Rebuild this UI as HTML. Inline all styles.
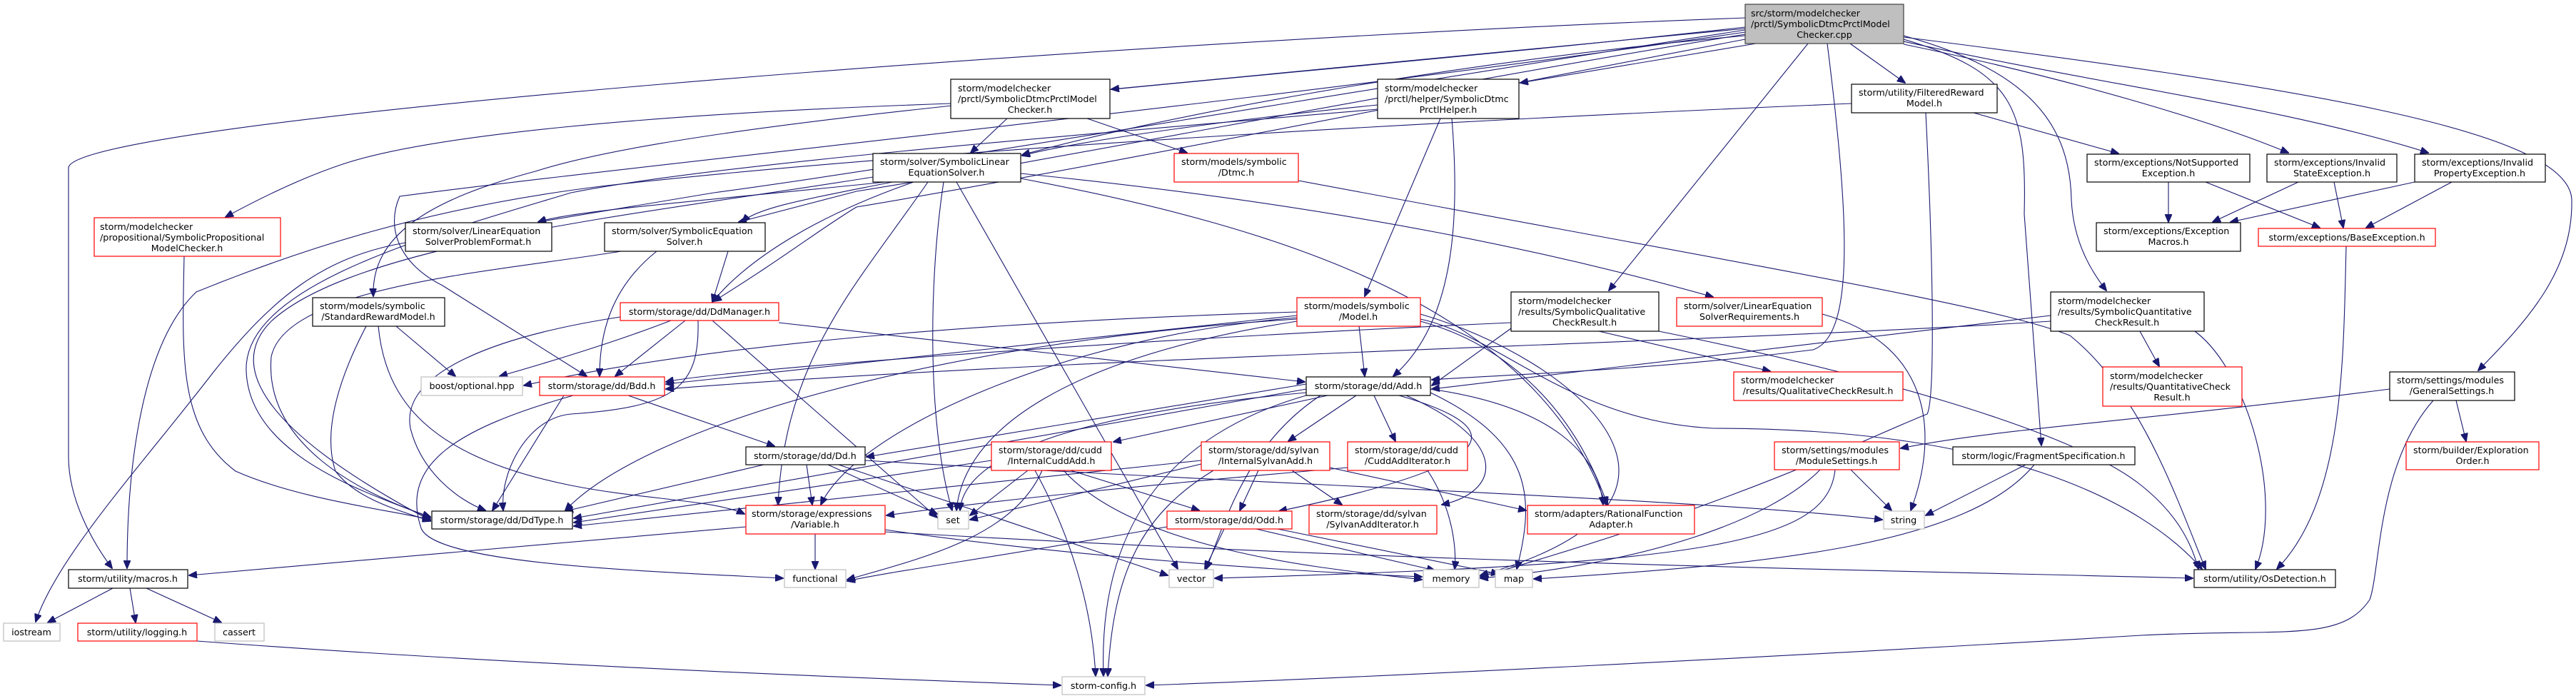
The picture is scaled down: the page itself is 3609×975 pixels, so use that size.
<!DOCTYPE html>
<html><head><meta charset="utf-8"><style>
html,body{margin:0;padding:0;background:#fff;}
svg{display:block;}
text{font-family:"DejaVu Sans","Liberation Sans",sans-serif;font-size:12.7px;fill:#000;}
.e{fill:none;stroke:#191970;stroke-width:1.1;}
.b{fill:#fff;stroke:#000;stroke-width:1.2;}
.r{fill:#fff;stroke:#ff0000;stroke-width:1.2;}
.g{fill:#fff;stroke:#bfbfbf;stroke-width:1.2;}
.c{text-anchor:middle;}
</style></head><body>
<svg width="3609" height="975" viewBox="0 0 3609 975" xmlns="http://www.w3.org/2000/svg">
<defs><marker id="a" markerWidth="12" markerHeight="10" refX="11" refY="5" orient="auto" markerUnits="userSpaceOnUse"><path d="M0,0 L12,5 L0,10 z" fill="#191970" stroke="#191970"/></marker></defs>
<g marker-end="url(#a)">
<path class="e" d="M2445,25 C1500,60 100,170 96,235 L96,640 C96,700 130,760 157,796"/>
<path class="e" d="M2445,38 C1800,110 1000,160 750,240 C600,280 520,330 523,415"/>
<path class="e" d="M2445,45 C1800,140 900,230 560,275 C540,320 560,370 620,400 L822,527"/>
<path class="e" d="M2445,40 L1557,125"/>
<path class="e" d="M2445,50 C2000,90 1600,170 1432,217"/>
<path class="e" d="M2460,61 L2130,116"/>
<path class="e" d="M2592,61 L2669,116"/>
<path class="e" d="M2533,61 L2254,407"/>
<path class="e" d="M2560,61 C2590,300 2600,470 2540,490 C2300,520 2100,525 2006,532"/>
<path class="e" d="M2667,55 C2820,100 2840,150 2836,300 L2860,624"/>
<path class="e" d="M2667,50 C2850,100 2900,180 2902,280 C2905,340 2930,380 2951,407"/>
<path class="e" d="M2667,62 C2900,110 3100,170 3206,214"/>
<path class="e" d="M2667,58 C2950,120 3200,150 3402,214"/>
<path class="e" d="M2667,52 C3200,120 3600,180 3603,280 C3605,380 3540,450 3472,519"/>
<path class="e" d="M2445,48 C2000,120 1500,220 1200,268 L1035,311"/>
<path class="e" d="M2445,55 C2000,140 1500,240 1200,290 C1150,320 1100,360 1000,422"/>
<path class="e" d="M2445,42 C2000,110 1300,230 1000,270 L754,311"/>
<path class="e" d="M1411,166 L1360,214"/>
<path class="e" d="M1523,166 L1663,214"/>
<path class="e" d="M1332,145 C900,160 600,190 480,230 C420,250 360,280 316,304"/>
<path class="e" d="M1930,147 C1700,170 1500,200 1432,218"/>
<path class="e" d="M2018,166 L1912,415"/>
<path class="e" d="M2034,166 C2045,300 2040,450 1952,527"/>
<path class="e" d="M1930,153 C1500,190 1000,230 800,270 C600,330 340,400 345,520 C350,650 550,700 603,726"/>
<path class="e" d="M2594,145 C2000,170 1300,210 850,260 C600,290 420,350 275,409 C200,480 178,650 178,796"/>
<path class="e" d="M2765,158 L2968,215"/>
<path class="e" d="M2698,158 C2710,400 2710,560 2700,580 C2600,620 2450,700 2074,808"/>
<path class="e" d="M1240,255 C1000,280 800,295 754,311"/>
<path class="e" d="M1250,255 C1150,275 1060,290 1040,311"/>
<path class="e" d="M1280,255 C1150,300 1050,360 998,423"/>
<path class="e" d="M1223,248 C900,300 500,340 380,450 C320,510 360,600 603,729"/>
<path class="e" d="M1322,255 C1300,400 1300,600 1334,715"/>
<path class="e" d="M1340,255 L1650,797"/>
<path class="e" d="M1300,255 C1200,400 1100,500 1090,707"/>
<path class="e" d="M1430,243 C1900,290 2200,360 2400,416"/>
<path class="e" d="M1430,250 C1800,320 2150,430 2250,707"/>
<path class="e" d="M1819,253 C2500,380 2800,430 2900,470 C3000,550 3050,700 3090,797"/>
<path class="e" d="M1020,352 L998,423"/>
<path class="e" d="M920,352 C860,400 840,460 840,527"/>
<path class="e" d="M870,352 C700,380 400,400 380,500 C370,620 500,690 603,724"/>
<path class="e" d="M258,359 C255,500 250,600 330,660 C420,700 550,715 603,728"/>
<path class="e" d="M568,340 C450,360 380,420 300,520 C200,650 80,780 50,871"/>
<path class="e" d="M555,457 L638,527"/>
<path class="e" d="M513,457 C480,520 450,600 470,660 C500,700 560,715 603,730"/>
<path class="e" d="M530,457 C540,560 600,640 800,680 C900,700 1000,700 1043,720"/>
<path class="e" d="M940,449 C860,480 760,510 700,527"/>
<path class="e" d="M960,449 L862,527"/>
<path class="e" d="M869,444 C700,470 560,520 575,600 C590,660 640,700 680,715"/>
<path class="e" d="M978,449 C980,540 950,570 800,580 C740,585 700,660 705,715"/>
<path class="e" d="M998,449 L1313,725"/>
<path class="e" d="M1091,452 L1828,535"/>
<path class="e" d="M803,554 C640,600 560,650 590,740 C610,790 900,800 1097,810"/>
<path class="e" d="M790,554 L690,715"/>
<path class="e" d="M880,554 L1085,625"/>
<path class="e" d="M1070,651 L792,716"/>
<path class="e" d="M1130,651 L1138,707"/>
<path class="e" d="M1160,651 L1313,720"/>
<path class="e" d="M1175,651 L1636,806"/>
<path class="e" d="M1212,645 C1800,680 2400,700 2637,728"/>
<path class="e" d="M1045,738 L265,806"/>
<path class="e" d="M1142,748 L1142,797"/>
<path class="e" d="M1240,742 C1500,780 1800,800 1992,808"/>
<path class="e" d="M1240,745 C2000,790 2700,800 3072,810"/>
<path class="e" d="M158,824 L67,872"/>
<path class="e" d="M182,824 L190,872"/>
<path class="e" d="M205,824 L310,872"/>
<path class="e" d="M276,898 C700,930 1200,950 1486,960"/>
<path class="e" d="M1904,457 L1912,527"/>
<path class="e" d="M1817,437 C1400,450 1000,480 734,540"/>
<path class="e" d="M1817,442 L933,538"/>
<path class="e" d="M1817,447 C1300,480 900,600 792,715"/>
<path class="e" d="M1817,450 C1500,500 1350,600 1340,715"/>
<path class="e" d="M1817,445 C1500,470 1200,600 1150,707"/>
<path class="e" d="M1990,450 C2100,480 2200,560 2252,707"/>
<path class="e" d="M1990,440 C2200,500 2450,700 2074,806"/>
<path class="e" d="M1990,447 C2100,470 2200,590 2400,600 C2800,600 3000,700 3085,797"/>
<path class="e" d="M1860,554 L1560,619"/>
<path class="e" d="M1900,554 L1805,618"/>
<path class="e" d="M1925,554 L1955,618"/>
<path class="e" d="M1960,554 C2120,600 2110,650 1792,716"/>
<path class="e" d="M1970,554 C2120,620 2100,690 2020,707"/>
<path class="e" d="M2004,545 C2180,570 2240,640 2246,707"/>
<path class="e" d="M2004,550 C2150,620 2150,700 2125,797"/>
<path class="e" d="M1830,554 C1600,620 1540,780 1546,947"/>
<path class="e" d="M1830,550 C1500,580 1350,640 1345,715"/>
<path class="e" d="M1830,545 L804,726"/>
<path class="e" d="M1830,538 L1214,640"/>
<path class="e" d="M1850,554 C1750,620 1720,720 1690,797"/>
<path class="e" d="M1389,645 L804,732"/>
<path class="e" d="M1440,659 L1359,722"/>
<path class="e" d="M1500,659 L1680,715"/>
<path class="e" d="M1460,659 C1420,750 1300,780 1187,812"/>
<path class="e" d="M1490,659 C1600,780 1900,800 1992,812"/>
<path class="e" d="M1450,659 C1500,750 1530,850 1535,947"/>
<path class="e" d="M1763,659 L1737,715"/>
<path class="e" d="M1810,659 L1880,707"/>
<path class="e" d="M1683,650 L1359,728"/>
<path class="e" d="M1863,655 L2138,715"/>
<path class="e" d="M1683,645 L804,737"/>
<path class="e" d="M1700,659 C1600,720 1560,800 1552,947"/>
<path class="e" d="M2000,659 C2040,720 2040,780 2038,797"/>
<path class="e" d="M1888,655 C1600,680 1400,700 1242,722"/>
<path class="e" d="M1715,741 L1688,797"/>
<path class="e" d="M1760,741 L2010,799"/>
<path class="e" d="M1790,741 L2100,804"/>
<path class="e" d="M1635,738 C1400,780 1250,800 1187,814"/>
<path class="e" d="M2117,452 C1500,480 1000,520 933,535"/>
<path class="e" d="M2240,464 L2480,520"/>
<path class="e" d="M2117,460 L2006,540"/>
<path class="e" d="M2324,464 C2600,520 2900,600 3000,680 C3050,720 3070,760 3080,797"/>
<path class="e" d="M2553,440 C2700,480 2720,600 2677,715"/>
<path class="e" d="M2873,442 L2006,545"/>
<path class="e" d="M2873,450 C2400,480 1500,500 933,545"/>
<path class="e" d="M2998,464 L3025,513"/>
<path class="e" d="M3075,464 C3150,520 3200,700 3160,797"/>
<path class="e" d="M3038,255 L3038,311"/>
<path class="e" d="M3090,255 L3250,319"/>
<path class="e" d="M3220,255 L3100,311"/>
<path class="e" d="M3270,255 L3283,319"/>
<path class="e" d="M3383,255 L3125,311"/>
<path class="e" d="M3435,255 L3315,319"/>
<path class="e" d="M3287,345 C3283,500 3285,700 3190,797"/>
<path class="e" d="M3441,561 L3455,618"/>
<path class="e" d="M3348,545 C3000,590 2800,600 2663,628"/>
<path class="e" d="M3409,561 C3330,650 3335,800 3320,840 C3280,900 3200,880 3000,890 C2500,920 1900,950 1606,960"/>
<path class="e" d="M2593,658 L2650,715"/>
<path class="e" d="M2550,658 C2480,730 2300,790 2074,810"/>
<path class="e" d="M2571,658 C2560,760 2400,790 1702,810"/>
<path class="e" d="M2838,651 L2698,722"/>
<path class="e" d="M2850,651 C2760,760 2500,790 2149,811"/>
</g>

<rect x="2445" y="6" width="222" height="55" fill="#bfbfbf" stroke="#404040" stroke-width="1.2"/>
<text x="2453" y="23">src/storm/modelchecker</text><text x="2453" y="38">/prctl/SymbolicDtmcPrctlModel</text><text class="c" x="2556" y="53">Checker.cpp</text>

<rect class="r" x="132" y="305" width="261" height="54"/>
<text x="140" y="322">storm/modelchecker</text><text x="140" y="337">/propositional/SymbolicPropositional</text><text class="c" x="262" y="352">ModelChecker.h</text>

<rect class="b" x="568" y="312" width="205" height="40"/>
<text x="578" y="328">storm/solver/LinearEquation</text><text class="c" x="670" y="343">SolverProblemFormat.h</text>

<rect class="b" x="847" y="312" width="225" height="40"/>
<text x="857" y="328">storm/solver/SymbolicEquation</text><text class="c" x="959" y="343">Solver.h</text>

<rect class="b" x="438" y="417" width="185" height="40"/>
<text x="448" y="433">storm/models/symbolic</text><text class="c" x="530" y="448">/StandardRewardModel.h</text>

<rect class="r" x="869" y="424" width="222" height="25"/><text class="c" x="980" y="441">storm/storage/dd/DdManager.h</text>
<rect class="g" x="590" y="528" width="142" height="26"/><text class="c" x="661" y="545">boost/optional.hpp</text>
<rect class="r" x="756" y="528" width="175" height="26"/><text class="c" x="843" y="545">storm/storage/dd/Bdd.h</text>
<rect class="b" x="1045" y="626" width="167" height="25"/><text class="c" x="1128" y="643">storm/storage/dd/Dd.h</text>
<rect class="b" x="605" y="716" width="197" height="25"/><text class="c" x="703" y="733">storm/storage/dd/DdType.h</text>

<rect class="r" x="1045" y="708" width="195" height="40"/>
<text x="1053" y="724">storm/storage/expressions</text><text class="c" x="1142" y="739">/Variable.h</text>

<rect class="g" x="1099" y="798" width="86" height="25"/><text class="c" x="1142" y="815">functional</text>
<rect class="b" x="96" y="798" width="167" height="26"/><text class="c" x="179" y="815">storm/utility/macros.h</text>
<rect class="g" x="5" y="873" width="79" height="25"/><text class="c" x="44" y="890">iostream</text>
<rect class="r" x="109" y="873" width="167" height="25"/><text class="c" x="192" y="890">storm/utility/logging.h</text>
<rect class="g" x="301" y="873" width="69" height="25"/><text class="c" x="335" y="890">cassert</text>

<rect class="b" x="1332" y="111" width="223" height="55"/>
<text x="1342" y="128">storm/modelchecker</text><text x="1342" y="143">/prctl/SymbolicDtmcPrctlModel</text><text class="c" x="1443" y="158">Checker.h</text>

<rect class="b" x="1930" y="111" width="198" height="55"/>
<text x="1940" y="128">storm/modelchecker</text><text x="1940" y="143">/prctl/helper/SymbolicDtmc</text><text class="c" x="2029" y="158">PrctlHelper.h</text>

<rect class="b" x="1223" y="215" width="207" height="40"/>
<text x="1233" y="231">storm/solver/SymbolicLinear</text><text class="c" x="1326" y="246">EquationSolver.h</text>

<rect class="r" x="1645" y="215" width="174" height="40"/>
<text x="1655" y="231">storm/models/symbolic</text><text class="c" x="1732" y="246">/Dtmc.h</text>

<rect class="r" x="1817" y="417" width="173" height="40"/>
<text x="1827" y="433">storm/models/symbolic</text><text class="c" x="1903" y="448">/Model.h</text>

<rect class="b" x="2117" y="409" width="207" height="55"/>
<text x="2127" y="426">storm/modelchecker</text><text x="2127" y="441">/results/SymbolicQualitative</text><text class="c" x="2220" y="456">CheckResult.h</text>

<rect class="r" x="2349" y="417" width="204" height="40"/>
<text x="2359" y="433">storm/solver/LinearEquation</text><text class="c" x="2451" y="448">SolverRequirements.h</text>

<rect class="b" x="1830" y="528" width="174" height="26"/><text class="c" x="1917" y="545">storm/storage/dd/Add.h</text>

<rect class="r" x="1389" y="619" width="168" height="40"/>
<text x="1399" y="635">storm/storage/dd/cudd</text><text class="c" x="1473" y="650">/InternalCuddAdd.h</text>

<rect class="r" x="1683" y="619" width="180" height="40"/>
<text x="1693" y="635">storm/storage/dd/sylvan</text><text class="c" x="1773" y="650">/InternalSylvanAdd.h</text>

<rect class="r" x="1888" y="619" width="168" height="40"/>
<text x="1898" y="635">storm/storage/dd/cudd</text><text class="c" x="1972" y="650">/CuddAddIterator.h</text>

<rect class="g" x="1314" y="716" width="43" height="25"/><text class="c" x="1335" y="733">set</text>
<rect class="r" x="1635" y="716" width="175" height="25"/><text class="c" x="1722" y="733">storm/storage/dd/Odd.h</text>

<rect class="r" x="1834" y="708" width="179" height="40"/>
<text x="1844" y="724">storm/storage/dd/sylvan</text><text class="c" x="1923" y="739">/SylvanAddIterator.h</text>

<rect class="r" x="2140" y="708" width="234" height="40"/>
<text x="2150" y="724">storm/adapters/RationalFunction</text><text class="c" x="2257" y="739">Adapter.h</text>

<rect class="g" x="1638" y="798" width="62" height="25"/><text class="c" x="1669" y="815">vector</text>
<rect class="g" x="1994" y="798" width="78" height="25"/><text class="c" x="2033" y="815">memory</text>
<rect class="g" x="2095" y="798" width="52" height="25"/><text class="c" x="2121" y="815">map</text>
<rect class="g" x="1488" y="948" width="116" height="25"/><text class="c" x="1546" y="965">storm-config.h</text>

<rect class="r" x="2429" y="521" width="237" height="40"/>
<text x="2439" y="537">storm/modelchecker</text><text class="c" x="2547" y="552">/results/QualitativeCheckResult.h</text>

<rect class="b" x="2594" y="118" width="204" height="40"/>
<text x="2604" y="134">storm/utility/FilteredReward</text><text class="c" x="2696" y="149">Model.h</text>

<rect class="b" x="2924" y="216" width="228" height="39"/>
<text x="2934" y="232">storm/exceptions/NotSupported</text><text class="c" x="3038" y="247">Exception.h</text>

<rect class="b" x="3176" y="216" width="182" height="39"/>
<text x="3186" y="232">storm/exceptions/Invalid</text><text class="c" x="3267" y="247">StateException.h</text>

<rect class="b" x="3383" y="216" width="183" height="39"/>
<text x="3393" y="232">storm/exceptions/Invalid</text><text class="c" x="3474" y="247">PropertyException.h</text>

<rect class="b" x="2937" y="312" width="202" height="40"/>
<text x="2947" y="328">storm/exceptions/Exception</text><text class="c" x="3038" y="343">Macros.h</text>

<rect class="r" x="3164" y="320" width="248" height="25"/><text class="c" x="3288" y="337">storm/exceptions/BaseException.h</text>

<rect class="b" x="2873" y="409" width="215" height="55"/>
<text x="2883" y="426">storm/modelchecker</text><text x="2883" y="441">/results/SymbolicQuantitative</text><text class="c" x="2980" y="456">CheckResult.h</text>

<rect class="r" x="2946" y="514" width="195" height="55"/>
<text x="2956" y="531">storm/modelchecker</text><text x="2956" y="546">/results/QuantitativeCheck</text><text class="c" x="3043" y="561">Result.h</text>

<rect class="b" x="3348" y="521" width="175" height="40"/>
<text x="3358" y="537">storm/settings/modules</text><text class="c" x="3435" y="552">/GeneralSettings.h</text>

<rect class="r" x="3371" y="619" width="186" height="39"/>
<text x="3381" y="635">storm/builder/Exploration</text><text class="c" x="3464" y="650">Order.h</text>

<rect class="r" x="2486" y="619" width="175" height="39"/>
<text x="2496" y="635">storm/settings/modules</text><text class="c" x="2573" y="650">/ModuleSettings.h</text>

<rect class="b" x="2736" y="626" width="255" height="25"/><text class="c" x="2863" y="643">storm/logic/FragmentSpecification.h</text>
<rect class="g" x="2639" y="716" width="57" height="25"/><text class="c" x="2667" y="733">string</text>
<rect class="b" x="3074" y="798" width="198" height="25"/><text class="c" x="3173" y="815">storm/utility/OsDetection.h</text>
</svg>
</body></html>
